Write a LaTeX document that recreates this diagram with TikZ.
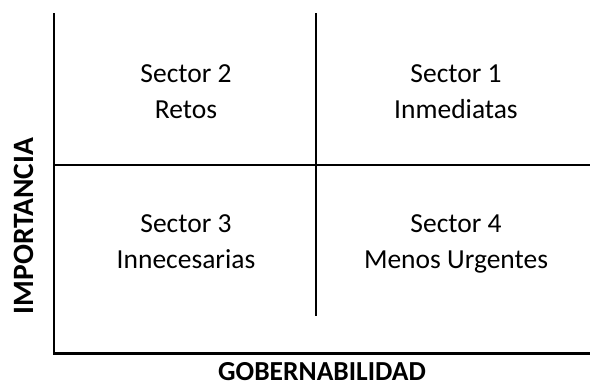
\documentclass[tikz,border=0pt]{standalone}
\usepackage{fontspec}
\setmainfont{Carlito}

\tikzset{
    sector/.style={align=center, inner sep=0pt, anchor=base, font=\fontsize{27.5}{36}\selectfont},
    axislabel/.style={inner sep=0pt, anchor=base, font=\fontsize{27.5}{32}\selectfont\bfseries},
    rule/.style={black, line width=2.8pt}
}

\begin{document}
\begin{tikzpicture}[x=1pt, y=-1pt]
    \useasboundingbox (0, 0) rectangle (590, 386);

    % axes
    \draw[rule] (54, 13) -- (54, 353.5) -- (590, 353.5);

    % dividers
    \draw[rule] (54, 165) -- (590, 165);
    \draw[rule] (316, 13) -- (316, 316);

    % sectors
    \node[sector] (sec2) at (186, 118) {Sector 2\\Retos};
    \node[sector] (sec1) at (456, 118) {Sector 1\\Inmediatas};
    \node[sector] (sec3) at (186, 268) {Sector 3\\Innecesarias};
    \node[sector] (sec4) at (456, 268) {Sector 4\\Menos Urgentes};

    % axis labels
    \node[axislabel] (xaxis) at (322, 380) {GOBERNABILIDAD};
    \node[axislabel, rotate=90, font=\fontsize{29.5}{32}\selectfont\bfseries] (yaxis) at (33, 226) {IMPORTANCIA};

\end{tikzpicture}
\end{document}
